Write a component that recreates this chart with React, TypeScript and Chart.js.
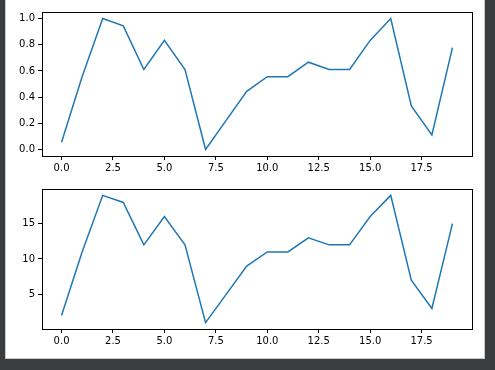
import React, { useEffect, useRef } from "react";
import { Chart, registerables } from "chart.js";

Chart.register(...registerables);

const xValues = [0, 1, 2, 3, 4, 5, 6, 7, 8, 9, 10, 11, 12, 13, 14, 15, 16, 17, 18, 19];
const bottomValues = [2, 11, 19, 18, 12, 16, 12, 1, 5, 9, 11, 11, 13, 12, 12, 16, 19, 7, 3, 15];
const topValues = [
  0.0556, 0.5556, 1.0, 0.9444, 0.6111, 0.8333, 0.6111, 0.0, 0.2222, 0.4444,
  0.5556, 0.5556, 0.6667, 0.6111, 0.6111, 0.8333, 1.0, 0.3333, 0.1111, 0.7778,
];
const xTicks = [0, 2.5, 5, 7.5, 10, 12.5, 15, 17.5];
const topYTicks = [0, 0.2, 0.4, 0.6, 0.8, 1.0];
const bottomYTicks = [5, 10, 15];

const FONT = { family: "'DejaVu Sans', sans-serif", size: 10 };
const LINE = "#1f77b4";

const framePlugin = {
  id: "frame",
  afterDraw(chart: any) {
    const { ctx, chartArea } = chart;
    ctx.save();
    ctx.strokeStyle = "#000";
    ctx.lineWidth = 1;
    ctx.strokeRect(
      Math.round(chartArea.left) + 0.5,
      Math.round(chartArea.top) + 0.5,
      Math.round(chartArea.right - chartArea.left),
      Math.round(chartArea.bottom - chartArea.top)
    );
    ctx.restore();
  },
};

function makeConfig(
  values: number[],
  yMin: number,
  yMax: number,
  yTicks: number[],
  yFmt: (v: number) => string,
  padTop: number,
  xAxisH: number
): any {
  return {
    type: "line",
    data: {
      datasets: [
        {
          data: xValues.map((x, i) => ({ x, y: values[i] })),
          borderColor: LINE,
          borderWidth: 1.5,
          pointRadius: 0,
          tension: 0,
          fill: false,
        },
      ],
    },
    options: {
      animation: false,
      responsive: false,
      maintainAspectRatio: false,
      layout: { padding: { top: padTop, right: 23, left: 0, bottom: 0 } },
      plugins: { legend: { display: false }, tooltip: { enabled: false } },
      scales: {
        x: {
          type: "linear",
          min: -0.95,
          max: 19.95,
          afterBuildTicks: (s: any) => {
            s.ticks = xTicks.map((v) => ({ value: v }));
          },
          afterFit: (s: any) => {
            s.height = xAxisH;
          },
          ticks: {
            color: "#000",
            font: FONT,
            padding: 2,
            maxRotation: 0,
            autoSkip: false,
            callback: (v: number) => v.toFixed(1),
          },
          grid: { drawOnChartArea: false, tickLength: 4, tickColor: "#000" },
          border: { display: true, color: "#000" },
        },
        y: {
          type: "linear",
          min: yMin,
          max: yMax,
          afterBuildTicks: (s: any) => {
            s.ticks = yTicks.map((v) => ({ value: v }));
          },
          afterFit: (s: any) => {
            s.width = 42;
          },
          ticks: {
            color: "#000",
            font: FONT,
            padding: 3,
            autoSkip: false,
            callback: (v: number) => yFmt(v),
          },
          grid: { drawOnChartArea: false, tickLength: 4, tickColor: "#000" },
          border: { display: true, color: "#000" },
        },
      },
    },
    plugins: [framePlugin],
  };
}

export default function App() {
  const topRef = useRef<HTMLCanvasElement>(null);
  const botRef = useRef<HTMLCanvasElement>(null);

  useEffect(() => {
    const c1 = new Chart(
      topRef.current!,
      makeConfig(topValues, -0.05, 1.05, topYTicks, (v) => v.toFixed(1), 12, 24)
    );
    const c2 = new Chart(
      botRef.current!,
      makeConfig(bottomValues, 0.1, 19.9, bottomYTicks, (v) => String(Math.round(v)), 5, 31)
    );
    return () => {
      c1.destroy();
      c2.destroy();
    };
  }, []);

  return (
    <div
      style={{
        position: "fixed",
        left: 0,
        top: 0,
        width: 495,
        height: 370,
        background: "#3b3e41",
        overflow: "hidden",
      }}
    >
      <div
        style={{
          position: "absolute",
          left: 5,
          top: -2,
          width: 478,
          height: 359,
          background: "#fff",
          border: "1px solid #c9c9c9",
        }}
      />
      <canvas
        ref={topRef}
        width={495}
        height={180}
        style={{ position: "absolute", left: 0, top: 0, width: 495, height: 180 }}
      />
      <canvas
        ref={botRef}
        width={495}
        height={180}
        style={{ position: "absolute", left: 0, top: 180, width: 495, height: 180 }}
      />
    </div>
  );
}
